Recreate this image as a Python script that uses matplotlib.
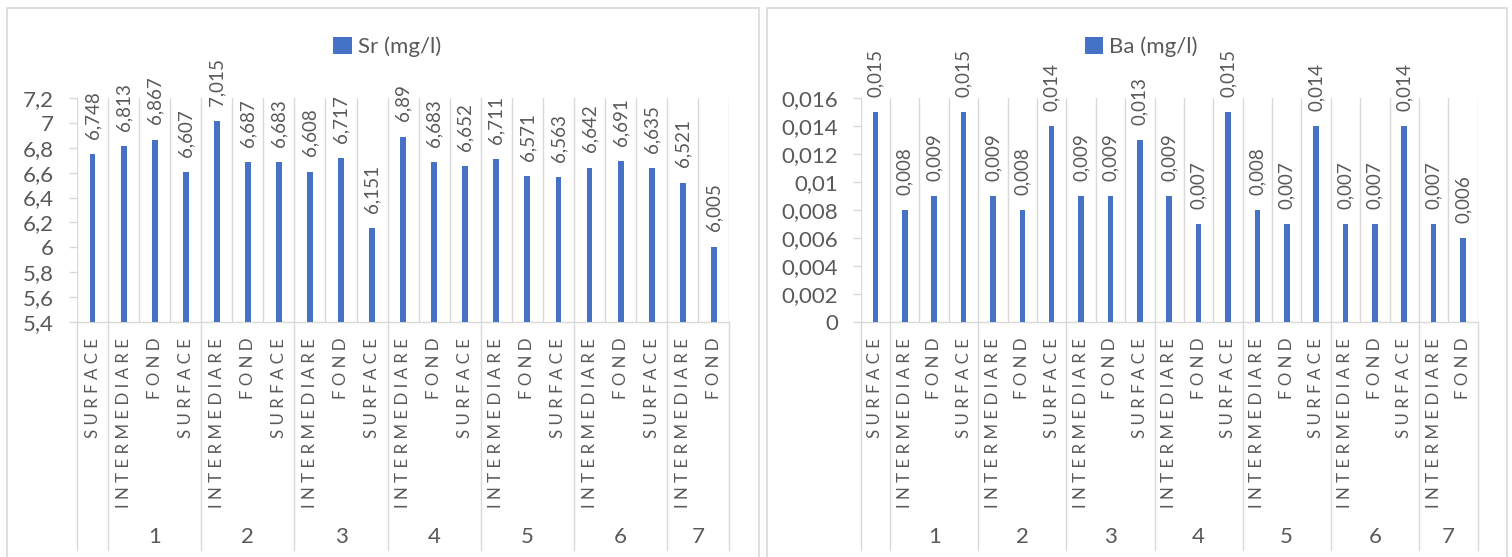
import matplotlib
matplotlib.use("Agg")
import matplotlib.pyplot as plt
import matplotlib.transforms as mtransforms
from matplotlib.patches import Rectangle
from matplotlib.ticker import MultipleLocator, FuncFormatter
import numpy as np

# ---- data ----
depths = ["SURFACE", "INTERMEDIARE", "FOND"] * 7
group_labels = ["", "1", "2", "3", "4", "5", "6", "7"]
group_sizes = [1, 3, 3, 3, 3, 3, 3, 2]

sr_values = [6.748, 6.813, 6.867, 6.607, 7.015, 6.687, 6.683, 6.608, 6.717, 6.151,
             6.89, 6.683, 6.652, 6.711, 6.571, 6.563, 6.642, 6.691, 6.635, 6.521, 6.005]
ba_values = [0.015, 0.008, 0.009, 0.015, 0.009, 0.008, 0.014, 0.009, 0.009, 0.013,
             0.009, 0.007, 0.015, 0.008, 0.007, 0.014, 0.007, 0.007, 0.014, 0.007, 0.006]

sr_name = "Sr (mg/l)"
ba_name = "Ba (mg/l)"

# ---- style ----
BAR = "#4472C4"
TXT = "#595959"
GRID = "#D9D9D9"
FONT = ["Lato", "DejaVu Sans"]
plt.rcParams["font.family"] = FONT

W, H = 1512, 557
fig = plt.figure(figsize=(W / 100, H / 100), dpi=100)


def fmt(v):
    s = f"{round(v, 6):g}"
    return s.replace(".", ",")


def spaced(word):
    # letter-spaced category names
    return " ".join(word)


def px_rect(x0, y0, x1, y1):
    return [x0 / W, 1 - y1 / H, (x1 - x0) / W, (y1 - y0) / H]


def panel(box, ax_px, values, ylim, step, name, legend_center):
    # panel frame
    bx0, by0, bx1, by1 = box
    fig.patches.append(Rectangle((bx0 / W, 1 - by1 / H), (bx1 - bx0) / W, (by1 - by0) / H,
                                 transform=fig.transFigure, fill=False,
                                 edgecolor=GRID, linewidth=1.2))
    ax = fig.add_axes(px_rect(*ax_px))
    n = len(values)
    x = np.arange(n) + 0.5
    ax.bar(x, values, width=0.19, color=BAR, label=name, zorder=3)
    ax.set_xlim(0, n)
    ax.set_ylim(*ylim)

    # value labels
    for xi, v in zip(x, values):
        ax.annotate(fmt(v), (xi, v), xytext=(0, 11), textcoords="offset points",
                    rotation=90, ha="center", va="bottom", fontsize=13.5, color=TXT)

    # y axis
    ax.yaxis.set_major_locator(MultipleLocator(step))
    ax.yaxis.set_major_formatter(FuncFormatter(lambda v, p: fmt(v)))
    ax.tick_params(axis="y", length=6, width=1.0, color=GRID, pad=10.5,
                   labelsize=16, labelcolor=TXT)

    # category axis
    ax.set_xticks(x)
    ax.set_xticklabels([spaced(d) for d in depths], rotation=90)
    ax.tick_params(axis="x", length=0, pad=11.5, labelsize=12.2, labelcolor=TXT)
    ax.set_xticks(np.arange(n + 1), minor=True)
    ax.tick_params(axis="x", which="minor", length=0)
    ax.grid(which="minor", axis="x", color=GRID, linewidth=1.0, zorder=0)
    ax.grid(which="major", visible=False)

    for s in ["top", "left", "right"]:
        ax.spines[s].set_visible(False)
    ax.spines["bottom"].set_color(GRID)
    ax.spines["bottom"].set_linewidth(1.0)

    # group separators and group labels below the category labels
    trans = mtransforms.blended_transform_factory(ax.transData, ax.transAxes)
    ax_h = ax_px[3] - ax_px[1]
    y_sep = -(550 - ax_px[3]) / ax_h
    y_grp = -(537 - ax_px[3]) / ax_h
    edges = np.concatenate([[0], np.cumsum(group_sizes)])
    for e in edges:
        ax.plot([e, e], [0, y_sep], transform=trans, color=GRID, linewidth=1.0,
                clip_on=False)
    for lab, a, b in zip(group_labels, edges[:-1], edges[1:]):
        if lab:
            ax.text((a + b) / 2, y_grp, lab, transform=trans, ha="center", va="center",
                    fontsize=16, color=TXT)

    ax.legend(loc="center", bbox_to_anchor=(legend_center[0] / W, 1 - legend_center[1] / H),
              bbox_transform=fig.transFigure, frameon=False, fontsize=16,
              labelcolor=TXT, handlelength=0.85, handleheight=0.85, handletextpad=0.25,
              borderpad=0)
    return ax


panel((7, 8, 759, 562), (77, 98.3, 729.3, 321.7), sr_values, (5.4, 7.2), 0.2,
      sr_name, (387, 47))
panel((767, 8, 1507, 562), (860.7, 98.3, 1477.7, 321.7), ba_values, (0, 0.016), 0.002,
      ba_name, (1141, 47))

fig.savefig("out.png", dpi=100, facecolor="white")
